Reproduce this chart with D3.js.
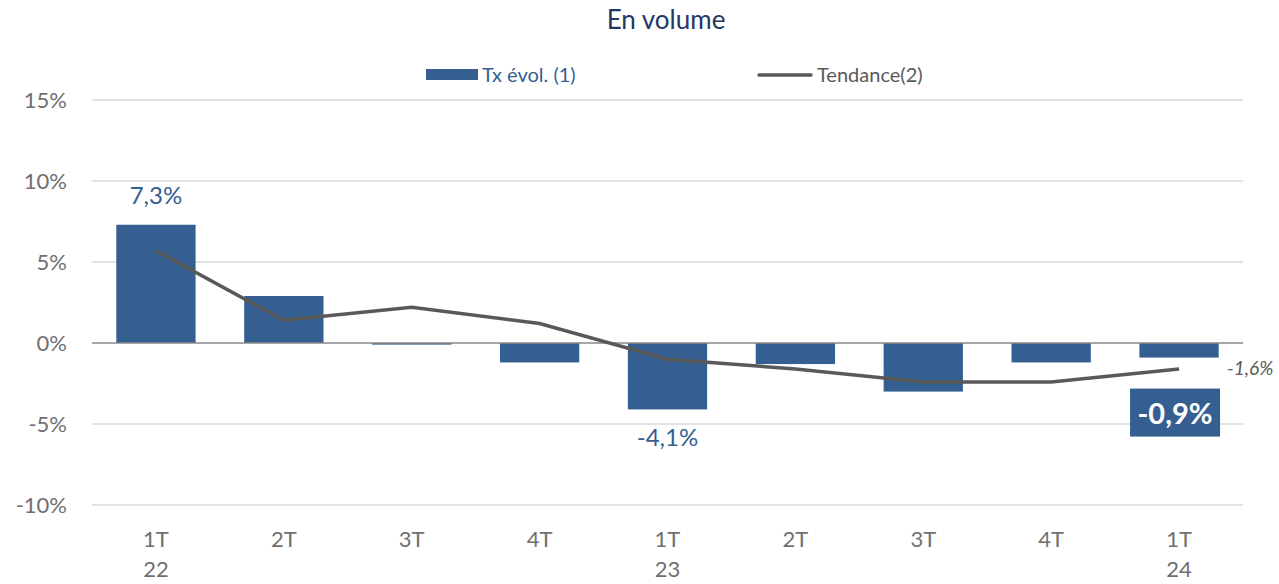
<!DOCTYPE html>
<html>
<head>
<meta charset="utf-8">
<script src="https://cdn.jsdelivr.net/npm/d3@7"></script>
<style>
  body { margin: 0; background: #fff; }
  text { font-family: Lato, "Open Sans", sans-serif; }
</style>
</head>
<body>
<div class="chart"></div>
<script>
var quarters = ["1T", "2T", "3T", "4T", "1T", "2T", "3T", "4T", "1T"];
var years = ["22", "", "", "", "23", "", "", "", "24"];
var txEvol = [7.3, 2.9, -0.1, -1.2, -4.1, -1.3, -3.0, -1.2, -0.9];
var tendance = [5.7, 1.4, 2.2, 1.2, -1.0, -1.6, -2.4, -2.4, -1.6];
var yTicks = [15, 10, 5, 0, -5, -10];

var W = 1279, H = 584;
var margin = {top: 100, right: 36, bottom: 79, left: 92},
  width = W - margin.left - margin.right,
  height = H - margin.top - margin.bottom;

var barColor = "#355f91";

var svg = d3.select(".chart")
  .append("svg")
  .attr("width", W)
  .attr("height", H);

svg.append("text")
  .attr("x", 666)
  .attr("y", 29)
  .attr("text-anchor", "middle")
  .style("font-size", "26px")
  .style("fill", "#1f3864")
  .text("En volume");

// legend
svg.append("rect")
  .attr("x", 426).attr("y", 69)
  .attr("width", 52).attr("height", 11)
  .attr("fill", barColor);
svg.append("text")
  .attr("x", 482).attr("y", 82)
  .style("font-size", "20px")
  .style("fill", barColor)
  .text("Tx évol. (1)");
svg.append("line")
  .attr("x1", 759).attr("x2", 811)
  .attr("y1", 75).attr("y2", 75)
  .attr("stroke", "#595959")
  .attr("stroke-width", 3.5)
  .attr("stroke-linecap", "round");
svg.append("text")
  .attr("x", 817).attr("y", 82)
  .style("font-size", "20px")
  .style("fill", "#595959")
  .text("Tendance(2)");

var g = svg.append("g")
  .attr("transform", "translate(" + margin.left + "," + margin.top + ")");

var x = d3.scaleBand()
  .domain(d3.range(quarters.length))
  .range([0, width])
  .paddingInner(0.38)
  .paddingOuter(0.19);

var y = d3.scaleLinear()
  .domain([-10, 15])
  .range([height, 0]);

// gridlines
g.selectAll(".grid")
  .data(yTicks.filter(function(d) { return d !== 0; }))
  .enter().append("line")
  .attr("x1", 0).attr("x2", width)
  .attr("y1", function(d) { return y(d); })
  .attr("y2", function(d) { return y(d); })
  .attr("stroke", "#d9d9d9")
  .attr("stroke-width", 1.3);

var yAxis = g.append("g")
  .call(d3.axisLeft(y).tickValues(yTicks).tickSize(0).tickPadding(25)
    .tickFormat(function(d) { return d + "%"; }));
yAxis.select(".domain").remove();
yAxis.selectAll("text")
  .style("font-size", "22px")
  .style("fill", "#6f6f6f")
  .attr("dy", "0.35em");

// bars
g.selectAll(".bar")
  .data(txEvol)
  .enter().append("rect")
  .attr("x", function(d, i) { return x(i); })
  .attr("y", function(d) { return y(Math.max(0, d)); })
  .attr("width", x.bandwidth())
  .attr("height", function(d) { return Math.abs(y(d) - y(0)); })
  .attr("fill", barColor);

// zero line
g.append("line")
  .attr("x1", 0).attr("x2", width)
  .attr("y1", y(0)).attr("y2", y(0))
  .attr("stroke", "#898989")
  .attr("stroke-width", 1.5);

// trend line
var line = d3.line()
  .x(function(d, i) { return x(i) + x.bandwidth() / 2; })
  .y(function(d) { return y(d); });

g.append("path")
  .datum(tendance)
  .attr("d", line)
  .attr("fill", "none")
  .attr("stroke", "#595959")
  .attr("stroke-width", 3.5);

// x labels
var xl = g.append("g").attr("transform", "translate(0," + height + ")");
xl.selectAll(".q")
  .data(quarters)
  .enter().append("text")
  .attr("x", function(d, i) { return x(i) + x.bandwidth() / 2; })
  .attr("y", 42)
  .attr("text-anchor", "middle")
  .style("font-size", "22px")
  .style("fill", "#6f6f6f")
  .text(function(d) { return d; });
xl.selectAll(".yr")
  .data(years)
  .enter().append("text")
  .attr("x", function(d, i) { return x(i) + x.bandwidth() / 2; })
  .attr("y", 72)
  .attr("text-anchor", "middle")
  .style("font-size", "22px")
  .style("fill", "#6f6f6f")
  .text(function(d) { return d; });

// data labels
var fmt = function(v) { return d3.format(".1f")(v).replace(".", ",").replace("\u2212", "-") + "%"; };
g.append("text")
  .attr("x", x(0) + x.bandwidth() / 2)
  .attr("y", y(txEvol[0]) - 21)
  .attr("text-anchor", "middle")
  .style("font-size", "24px")
  .style("fill", barColor)
  .text(fmt(txEvol[0]));
g.append("text")
  .attr("x", x(4) + x.bandwidth() / 2)
  .attr("y", y(txEvol[4]) + 37)
  .attr("text-anchor", "middle")
  .style("font-size", "24px")
  .style("fill", barColor)
  .text(fmt(txEvol[4]));

var last = txEvol.length - 1;
var cx = x(last) + x.bandwidth() / 2;
g.append("rect")
  .attr("x", cx - 49)
  .attr("y", y(txEvol[last]) + 31)
  .attr("width", 90)
  .attr("height", 48)
  .attr("fill", barColor);
g.append("text")
  .attr("x", cx - 4)
  .attr("y", y(txEvol[last]) + 66)
  .attr("text-anchor", "middle")
  .style("font-size", "29px")
  .style("font-weight", "bold")
  .style("fill", "#fff")
  .text(fmt(txEvol[last]));

g.append("text")
  .attr("x", cx + 48)
  .attr("y", y(tendance[last]) + 6)
  .style("font-size", "19px")
  .style("font-style", "italic")
  .style("fill", "#595959")
  .text(fmt(tendance[last]));
</script>
</body>
</html>
